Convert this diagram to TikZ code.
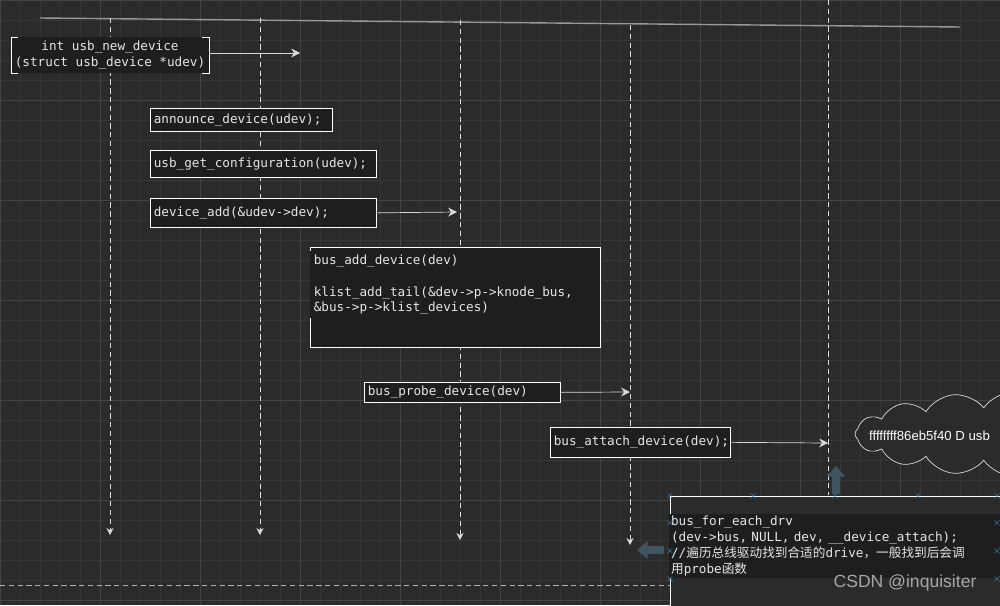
\documentclass[tikz,border=0pt]{standalone}
\usepackage{fontspec}
\setmonofont{DejaVu Sans Mono}
\setmainfont{Liberation Sans}
\newfontfamily\cjk{Noto Sans CJK SC}
\usetikzlibrary{positioning, shapes.symbols, arrows.meta}
\definecolor{bgdark}{HTML}{2B2B2B}
\definecolor{boxdark}{HTML}{1E1E1E}
\definecolor{gridc}{HTML}{363636}
\definecolor{gridm}{HTML}{444444}
\definecolor{txt}{HTML}{E6E6E6}
\definecolor{markblue}{HTML}{2A9BD8}
\definecolor{fade}{HTML}{3E5562}
\tikzset{
  code/.style={draw=white, fill=boxdark, text=txt, font=\ttfamily\fontsize{7.2}{9}\selectfont, inner sep=2pt, anchor=north west, align=left},
  box/.style 2 args={code, text width=#1*0.02cm-4pt, minimum height=#2*0.02cm},
  life/.style={white!85!black, dashed, dash pattern=on 3pt off 2pt, -{Stealth[length=4pt,width=4pt]}},
  call/.style={white!85!black, -{Stealth[length=5pt,width=5pt]}},
  fat/.style={fade, line width=4pt, -{Triangle[length=6pt,width=10pt]}},
  xmark/.style={markblue, font=\tiny},
}
\begin{document}
\begin{tikzpicture}[x=0.02cm, y=-0.02cm]
  \useasboundingbox (0,0) rectangle (1000,605);
  \clip (0,0) rectangle (1000,605);
  \fill[bgdark] (0,0) rectangle (1000,605);
  \foreach \x in {0,20,...,1000} \draw[gridc] (\x,0) -- (\x,605);
  \foreach \y in {0,20,...,600} \draw[gridc] (0,\y) -- (1000,\y);
  \foreach \x in {0,100,...,1000} \draw[gridm] (\x,0) -- (\x,605);
  \foreach \y in {0,100,...,600} \draw[gridm] (0,\y) -- (1000,\y);

  % top line
  \draw[white!60!black, thick] (40,18) -- (960,27);

  % lifelines
  \coordinate (l1t) at (110,18);  \coordinate (l1b) at (110,535);
  \coordinate (l2t) at (260,18);  \coordinate (l2b) at (260,535);
  \coordinate (l3t) at (460,20);  \coordinate (l3b) at (460,540);
  \coordinate (l4t) at (630,25);  \coordinate (l4b) at (630,545);
  \coordinate (l5t) at (828,0);   \coordinate (l5b) at (828,495);
  \foreach \i in {1,2,3,4} \draw[life] (l\i t) -- (l\i b);
  \draw[white!85!black, dashed, dash pattern=on 3pt off 2pt] (l5t) -- (l5b);
  \draw[white!70!black, dashed, dash pattern=on 3pt off 2pt] (0,585) -- (670,585);

  % calls
  \node[code, align=center, draw=none, anchor=north] (newdev) at (110,37) {int usb\_new\_device\\(struct usb\_device *udev)};
  \draw[white] ([xshift=4pt]newdev.north west) -| (newdev.south west) -- ++(4pt,0);
  \draw[white] ([xshift=-4pt]newdev.north east) -| (newdev.south east) -- ++(-4pt,0);
  \coordinate (a1) at (300,53);
  \draw[call] (newdev.east |- a1) -- (a1);

  \node[box={182}{23}] (announce) at (150,108) {announce\_device(udev);};
  \node[box={226}{27}] (getcfg) at (150,150) {usb\_get\_configuration(udev);};
  \node[box={226}{29}] (devadd) at (150,198) {device\_add(\&udev->dev);};
  \coordinate (a2) at (457,212);
  \draw[call] (devadd.east) -- (a2);

  \node[code, minimum width=290*0.02cm, minimum height=100*0.02cm, inner sep=0pt] (busadd) at (310,247) {};
  \node[code, draw=none, anchor=north west] (busaddtxt) at (310,251) {bus\_add\_device(dev)\\[9pt]klist\_add\_tail(\&dev->p->knode\_bus,\\\&bus->p->klist\_devices)};

  \node[box={196}{20}] (probe) at (364,382) {bus\_probe\_device(dev)};
  \coordinate (a3) at (630,392);
  \draw[call] (probe.east) -- (a3);

  \node[box={180}{30}] (attach) at (550,427) {bus\_attach\_device(dev);};
  \coordinate (a4) at (828,443);
  \draw[call] (attach.east) -- (a4);

  % cloud
  \node[cloud, draw=white!85!black, fill=bgdark, cloud puffs=16, cloud puff arc=110, aspect=3.5, minimum width=320*0.02cm, minimum height=85*0.02cm] (log) at (1015,434) {};
  \node[text=white, font=\fontsize{7.5}{9}\selectfont, anchor=west] (logtxt) at (863,436) {ffffffff86eb5f40 D usb};

  % bottom box
  \draw[white, fill=bgdark] (670,496) rectangle (1010,620);
  \node[code, draw=none, inner sep=1pt, text width=340*0.02cm] (foreach) at (669,514) {bus\_for\_each\_drv\\(dev->bus, NULL, dev, \_\_device\_attach);\\//{\cjk 遍历总线驱动找到合适的}drive{\cjk ，一般找到后会调}\\{\cjk 用}probe{\cjk 函数}};
  \foreach \x in {670,753,835,918,997} \node[xmark] at (\x,496) {$\times$};
  \foreach \y in {523,551,579} {\node[xmark] at (670,\y) {$\times$}; \node[xmark] at (997,\y) {$\times$};}

  % faded hints
  \coordinate (u1) at (836,494); \coordinate (u2) at (836,466);
  \draw[fat] (u1) -- (u2);
  \coordinate (h1) at (664,550); \coordinate (h2) at (637,550);
  \draw[fat] (h1) -- (h2);

  \node[white!65!black, font=\fontsize{10}{12}\selectfont] (wm) at (905,583) {CSDN @inquisiter};
\end{tikzpicture}
\end{document}
